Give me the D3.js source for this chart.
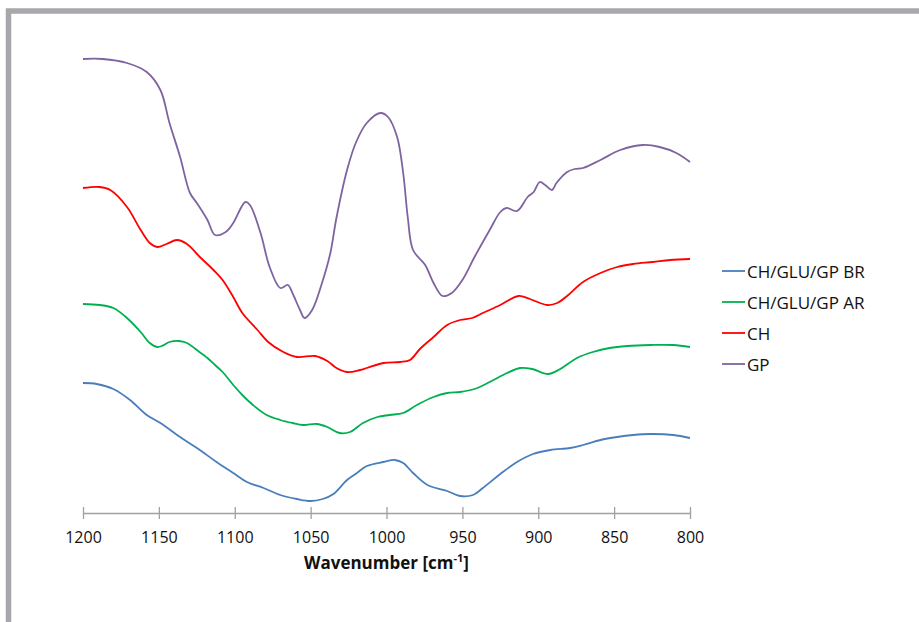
<!DOCTYPE html>
<html>
<head>
<meta charset="utf-8">
<script src="https://cdn.jsdelivr.net/npm/d3@7"></script>
<style>
  html, body { margin: 0; padding: 0; background: #fff; }
  svg { display: block; }
</style>
</head>
<body>
<svg id="chart" width="919" height="622"></svg>
<script>
// ---- Data (wavenumber, signal in arbitrary offset units) ----
const xTicks = [1200, 1150, 1100, 1050, 1000, 950, 900, 850, 800];
const seriesNames = ["CH/GLU/GP BR", "CH/GLU/GP AR", "CH", "GP"];
const seriesColors = ["#4a7ebb", "#00b050", "#ff0000", "#7f63a1"];

const wnBR = [1200,1191,1180,1169,1158,1149,1136,1123,1112,1101,1092,1081,1070,1059,1050,1042,1035,1026,1019.5,1013,1002,994.5,989,982.5,973,960,951.5,943,936.5,925,914,903.5,892,879,870.5,859,848,837.5,826,811,800];
const valBR = [13.0,12.9,12.4,11.3,9.8,9.0,7.6,6.3,5.1,4.0,3.1,2.5,1.8,1.4,1.2,1.4,1.9,3.3,4.0,4.7,5.1,5.3,5.0,4.0,2.8,2.2,1.7,1.8,2.5,3.9,5.1,5.9,6.3,6.5,6.8,7.3,7.6,7.8,7.9,7.8,7.5];

const wnAR = [1200,1189,1180,1171,1162,1156,1151,1148,1143,1137,1131.5,1125,1118,1113,1108,1101,1095,1088,1079,1070,1062,1055,1046,1039,1031,1024,1015.5,1006,998,989,980,969,960,951.5,942,932,920.5,912,904,893.5,885.5,874.5,864,853,841.5,826,811,800];
const valAR = [20.9,20.8,20.5,19.5,18.1,17.0,16.6,16.7,17.1,17.2,17.0,16.3,15.5,14.8,14.1,12.8,11.8,10.8,9.8,9.3,9.0,8.8,8.9,8.6,8.0,8.1,9.0,9.6,9.8,10.0,10.8,11.6,12.0,12.1,12.4,13.1,14.0,14.5,14.4,13.9,14.4,15.5,16.1,16.5,16.7,16.8,16.8,16.6];

const wnCH = [1200,1189,1182,1171,1162,1156,1151,1145,1138,1131.5,1123,1114,1108,1101,1095,1085,1078,1068,1059,1047,1039,1033,1026,1017.5,1013,1002,991,984.5,978,969,960,951.5,943.5,936.5,925,913,905.5,894,887.5,881,870.5,859,848,837.5,824.5,813,800];
const valCH = [32.5,32.6,32.3,30.6,28.3,27.0,26.6,26.9,27.3,26.9,25.6,24.3,23.3,21.6,20.0,18.3,17.1,16.1,15.6,15.7,15.2,14.5,14.1,14.3,14.5,15.0,15.1,15.3,16.4,17.6,18.8,19.3,19.5,20.0,20.8,21.7,21.4,20.8,21.0,21.7,23.1,24.0,24.6,24.9,25.1,25.3,25.4];

const wnGP = [1200,1187,1171,1158,1149,1143,1136,1129.5,1125,1118,1113,1106,1101,1093,1090,1083,1077,1070,1065,1062,1057,1054,1049,1042.5,1037,1033,1026,1020,1013,1004,999,993,989,986,982.5,974.5,969,963,957,950,942,932,925,921,914,907,903,899,895.5,891,888,881,876,870.5,859,846,831,820,809,800];
const valGP = [45.4,45.4,45.0,44.1,42.3,39.0,35.6,32.0,31.0,29.3,27.8,28.1,29.0,31.1,30.8,28.0,24.6,22.5,22.8,22.0,20.3,19.5,20.3,23.0,26.0,29.5,34.3,37.1,39.0,40.0,39.6,37.6,34.0,29.6,26.3,24.8,23.0,21.7,22.0,23.3,25.6,28.3,30.1,30.5,30.2,31.6,32.1,33.1,32.8,32.3,33.0,34.1,34.4,34.5,35.3,36.3,36.8,36.6,36.0,35.1];

const seriesX = [wnBR, wnAR, wnCH, wnGP];
const seriesY = [valBR, valAR, valCH, valGP];

// ---- Chart ----
const svg = d3.select("#chart");
const font = "'Open Sans', 'DejaVu Sans', sans-serif";

// outer frame (partially visible)
svg.append("rect")
  .attr("x", 8.5).attr("y", 11)
  .attr("width", 1200).attr("height", 1200)
  .attr("fill", "none")
  .attr("stroke", "#a8a8ac")
  .attr("stroke-width", 5.5);

const x = d3.scaleLinear().domain([1200, 800]).range([83, 690]);
const y = d3.scaleLinear().domain([0, 50]).range([513, 13]);

const axisY = y(0);
const axis = d3.axisBottom(x).tickValues(xTicks).tickSize(6).tickSizeOuter(0).tickFormat(d3.format("d"));
const gAxis = svg.append("g").attr("transform", `translate(0,${axisY})`).call(axis);
gAxis.select(".domain").attr("stroke", "#a0a0a0").attr("stroke-width", 1.3);
gAxis.selectAll(".tick line").attr("stroke", "#a0a0a0").attr("stroke-width", 1.3).attr("y1", -6).attr("y2", 6);
gAxis.selectAll(".tick text")
  .attr("y", 30).attr("dy", null)
  .attr("fill", "#111")
  .style("font-family", font)
  .style("font-size", "16px");

// axis title
const title = svg.append("text")
  .attr("x", 386.5).attr("y", 569)
  .attr("text-anchor", "middle")
  .style("font-family", font)
  .style("font-size", "17px")
  .style("font-weight", "700")
  .attr("fill", "#111");
title.append("tspan").text("Wavenumber [cm");
title.append("tspan").attr("dy", -7).style("font-size", "11px").text("-1");
title.append("tspan").attr("dy", 7).text("]");

// lines
const line = d3.line()
  .x(d => x(d[0]))
  .y(d => y(d[1]))
  .curve(d3.curveCatmullRom.alpha(0.5));

seriesNames.forEach((name, i) => {
  const pts = seriesX[i].map((w, j) => [w, seriesY[i][j]]);
  svg.append("path")
    .datum(pts)
    .attr("fill", "none")
    .attr("stroke", seriesColors[i])
    .attr("stroke-width", 1.8)
    .attr("stroke-linejoin", "round")
    .attr("d", line);
});

// legend
const legend = svg.append("g");
seriesNames.forEach((name, i) => {
  const base = 278 + i * 31;
  legend.append("line")
    .attr("x1", 722).attr("x2", 745)
    .attr("y1", base - 7).attr("y2", base - 7)
    .attr("stroke", seriesColors[i])
    .attr("stroke-width", 1.8);
  legend.append("text")
    .attr("x", 747).attr("y", base)
    .style("font-family", font)
    .style("font-size", "17px")
    .attr("fill", "#111")
    .text(name);
});
</script>
</body>
</html>
